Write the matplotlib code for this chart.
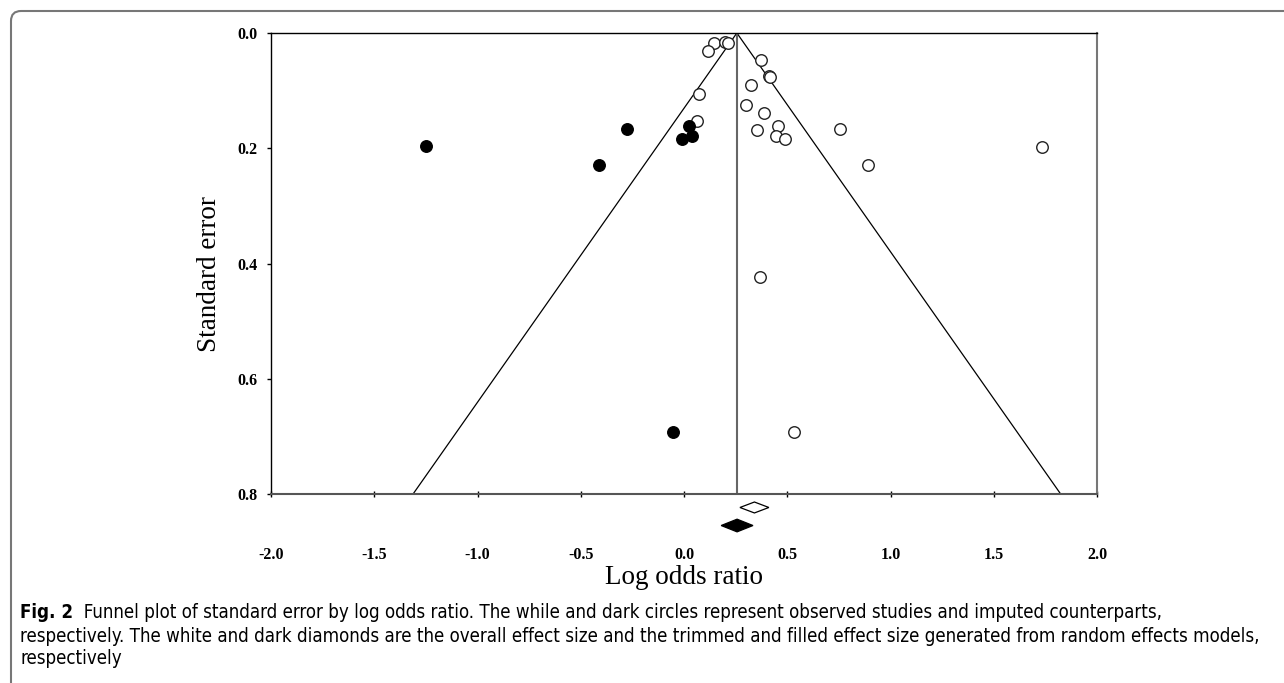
import numpy as np
import matplotlib
matplotlib.use("Agg")
import matplotlib.pyplot as plt
from matplotlib import font_manager
from matplotlib.patches import FancyBboxPatch
from matplotlib.transforms import IdentityTransform

# observed studies (white circles)
obs_lor = [0.145, 0.118, 0.200, 0.212, 0.373, 0.414, 0.418, 0.326, 0.073, 0.300,
           0.389, 0.064, 0.354, 0.457, 0.446, 0.491, 0.755, 0.892, 1.734, 0.368, 0.533]
obs_se = [0.017, 0.031, 0.016, 0.018, 0.046, 0.074, 0.076, 0.091, 0.106, 0.125,
          0.138, 0.152, 0.168, 0.161, 0.178, 0.184, 0.167, 0.229, 0.197, 0.424, 0.692]

# imputed studies (dark circles)
imp_lor = [-1.249, -0.412, -0.276, 0.024, 0.039, -0.010, -0.052]
imp_se = [0.196, 0.229, 0.167, 0.161, 0.178, 0.184, 0.692]

effect = 0.256          # funnel centre
overall = 0.341         # white diamond
overall_hw = 0.070
filled = 0.257          # dark diamond
filled_hw = 0.077

xticks = [-2.0, -1.5, -1.0, -0.5, 0.0, 0.5, 1.0, 1.5, 2.0]
yticks = [0.0, 0.2, 0.4, 0.6, 0.8]

caption_bold = "Fig. 2"
caption_lines = [
    "  Funnel plot of standard error by log odds ratio. The while and dark circles represent observed studies and imputed counterparts,",
    "respectively. The white and dark diamonds are the overall effect size and the trimmed and filled effect size generated from random effects models,",
    "respectively",
]

serif = "Liberation Serif"
fl = font_manager.fontManager.ttflist
names = {f.name for f in fl}
cap_stretch = "normal"
if "Liberation Sans Narrow" in names:
    cap_font = "Liberation Sans Narrow"
elif any(f.name == "DejaVu Sans" and f.stretch == "condensed" for f in fl):
    cap_font = "DejaVu Sans"
    cap_stretch = "condensed"
else:
    cap_font = "Lato"

W, H = 1284, 683
fig = plt.figure(figsize=(W / 100, H / 100), dpi=100)
ax = fig.add_axes([271 / W, 1 - 494 / H, (1097 - 271) / W, (494 - 33) / H])

# funnel
se_max = 0.8
ax.plot([effect - 1.96 * se_max, effect, effect + 1.96 * se_max], [se_max, 0, se_max],
        color="black", lw=0.9)
ax.plot([effect, effect], [0, se_max], color="#666666", lw=1.5)

ax.plot(obs_lor, obs_se, "o", ms=8.3, mfc="white", mec="#222222", mew=1.0, ls="none")
ax.plot(imp_lor, imp_se, "o", ms=8.3, mfc="black", mec="black", mew=1.0, ls="none")

# diamonds below the axis
def diamond(c, hw, y, hh, fc):
    ax.fill([c - hw, c, c + hw, c], [y, y - hh, y, y + hh], facecolor=fc,
            edgecolor="black", lw=0.9, clip_on=False)

diamond(overall, overall_hw, 0.8234, 0.0095, "white")
diamond(filled, filled_hw, 0.8547, 0.011, "black")

ax.set_xlim(-2.0, 2.0)
ax.set_ylim(0.8, 0.0)
ax.set_xticks(xticks)
ax.set_yticks(yticks)
ax.set_xticklabels(["%.1f" % v for v in xticks], fontfamily=serif, fontweight="bold", fontsize=11.5)
ax.set_yticklabels(["%.1f" % v for v in yticks], fontfamily=serif, fontweight="bold", fontsize=11.5)
ax.tick_params(axis="x", direction="inout", length=5, width=1, pad=36)
ax.tick_params(axis="y", direction="out", length=3, width=1, pad=7)

for s in ["left", "bottom", "top"]:
    ax.spines[s].set_color("black")
    ax.spines[s].set_linewidth(1.0)
ax.spines["right"].set_color("#777777")
ax.spines["right"].set_linewidth(1.5)
ax.spines["bottom"].set_color("#555555")
ax.spines["bottom"].set_linewidth(1.5)

ax.set_xlabel("Log odds ratio", fontfamily=serif, fontsize=19.5)
ax.xaxis.label.set_va("center")
ax.xaxis.set_label_coords(0.5, (494 - 578) / 461)
ax.set_ylabel("Standard error", fontfamily=serif, fontsize=19.5)
ax.yaxis.label.set_va("center")
ax.yaxis.set_label_coords((210 - 271) / 826, (494 - 274) / 461)

# frame around the figure (top and left only visible)
frame = FancyBboxPatch((11, -30), 1400, H - 11 + 30, boxstyle="round,pad=0,rounding_size=10",
                       transform=IdentityTransform(), fill=False, ec="#777777", lw=1.5)
fig.patches.append(frame)

# caption, fitted so line 2 ends near x=1266
cap = dict(fontfamily=cap_font, fontstretch=cap_stretch, va="center", ha="left")
fs = 13.0
t_b = fig.text(20 / W, 1 - 612 / H, caption_bold, fontweight="bold", fontsize=fs, **cap)
fig.canvas.draw()
r = fig.canvas.get_renderer()
probe = fig.text(20 / W, 1 - 636 / H, caption_lines[1], fontsize=fs, **cap)
wpx = probe.get_window_extent(r).width
probe.remove()
fs = fs * (1266 - 20) / wpx
t_b.set_fontsize(fs)
fig.canvas.draw()
bx = t_b.get_window_extent(r).x1
fig.text(bx / W, 1 - 612 / H, caption_lines[0], fontsize=fs, **cap)
fig.text(20 / W, 1 - 636 / H, caption_lines[1], fontsize=fs, **cap)
fig.text(20 / W, 1 - 659 / H, caption_lines[2], fontsize=fs, **cap)

fig.savefig("out.png", dpi=100)
